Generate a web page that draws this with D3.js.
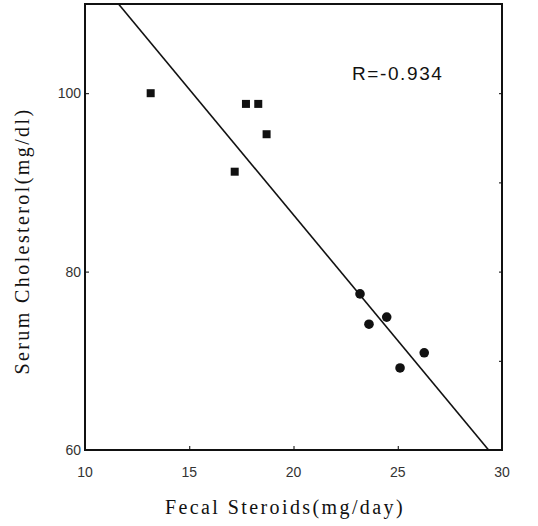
<!DOCTYPE html>
<html>
<head>
<meta charset="utf-8">
<script src="https://cdn.jsdelivr.net/npm/d3@7"></script>
<style>
	body { margin: 0; background: #fff; }
	.tick-label { font-family: "Liberation Sans", Arial, sans-serif; font-size: 14px; fill: #333; }
	.axis-title { font-family: "Liberation Serif", "DejaVu Serif", serif; font-size: 20px; letter-spacing: 2.4px; fill: #111; }
	.r-label { font-family: "Liberation Sans", Arial, sans-serif; font-size: 19px; letter-spacing: 1.6px; fill: #111; }
</style>
</head>
<body>
<svg id="chart" width="538" height="526"></svg>
<script>
// fecal steroids (mg/day) vs serum cholesterol (mg/dl)
var squareX = [13.15, 17.72, 18.31, 18.71, 17.18];
var squareY = [100.0, 98.8, 98.8, 95.4, 91.2];
var circleX = [23.19, 23.62, 24.47, 26.27, 25.11];
var circleY = [77.5, 74.1, 74.9, 70.9, 69.2];

var xTicks = [10, 15, 20, 25, 30];
var yTicks = [60, 80, 100];

// regression line: y = intercept + slope * x
var fitSlope = -2.817;
var fitIntercept = 142.7;
var rLabel = 'R=-0.934';

var margin = { left: 85, right: 36, top: 4, bottom: 76 };
var width = 538, height = 526;

var svg = d3.select('#chart');

var x = d3.scaleLinear().domain([10, 30]).range([margin.left, width - margin.right]);
var y = d3.scaleLinear().domain([60, 110]).range([height - margin.bottom, margin.top]);

// inward ticks on all four sides
svg.append('g')
	.attr('transform', 'translate(0,' + y(60) + ')')
	.call(d3.axisBottom(x).tickValues(xTicks).tickSize(-4).tickFormat(''))
	.call(function(g) { g.select('.domain').remove(); });
svg.append('g')
	.attr('transform', 'translate(' + x(10) + ',0)')
	.call(d3.axisLeft(y).tickValues(yTicks).tickSize(-4).tickFormat(''))
	.call(function(g) { g.select('.domain').remove(); });
svg.append('g')
	.attr('transform', 'translate(' + x(30) + ',0)')
	.call(d3.axisRight(y).tickValues([70, 80, 90, 100]).tickSize(-3).tickFormat(''))
	.call(function(g) { g.select('.domain').remove(); });

// tick labels
svg.selectAll('text.xlab')
	.data(xTicks)
	.enter()
	.append('text')
	.attr('class', 'tick-label xlab')
	.attr('x', function(d) { return x(d); })
	.attr('y', y(60) + 27)
	.attr('text-anchor', 'middle')
	.text(function(d) { return d; });

svg.selectAll('text.ylab')
	.data(yTicks)
	.enter()
	.append('text')
	.attr('class', 'tick-label ylab')
	.attr('x', x(10) - 4)
	.attr('y', function(d) { return y(d) + 5; })
	.attr('text-anchor', 'end')
	.text(function(d) { return d; });

// frame
svg.append('rect')
	.attr('x', x(10))
	.attr('y', y(110))
	.attr('width', x(30) - x(10))
	.attr('height', y(60) - y(110))
	.attr('fill', 'none')
	.attr('stroke', '#111')
	.attr('stroke-width', 2);

// regression line, clipped to the plot
var xStart = (110 - fitIntercept) / fitSlope;
var xEnd = (60 - fitIntercept) / fitSlope;
svg.append('line')
	.attr('x1', x(xStart))
	.attr('y1', y(110))
	.attr('x2', x(xEnd))
	.attr('y2', y(60))
	.attr('stroke', '#111')
	.attr('stroke-width', 1.6);

// squares
var sq = 8;
svg.selectAll('rect.sq')
	.data(d3.range(squareX.length))
	.enter()
	.append('rect')
	.attr('class', 'sq')
	.attr('x', function(i) { return x(squareX[i]) - sq / 2; })
	.attr('y', function(i) { return y(squareY[i]) - sq / 2; })
	.attr('width', sq)
	.attr('height', sq)
	.attr('fill', '#111');

// circles
svg.selectAll('circle.pt')
	.data(d3.range(circleX.length))
	.enter()
	.append('circle')
	.attr('class', 'pt')
	.attr('cx', function(i) { return x(circleX[i]); })
	.attr('cy', function(i) { return y(circleY[i]); })
	.attr('r', 4.8)
	.attr('fill', '#111');

// R label
svg.append('text')
	.attr('class', 'r-label')
	.attr('x', 352)
	.attr('y', 80)
	.text(rLabel);

// axis titles
svg.append('text')
	.attr('class', 'axis-title')
	.attr('x', 285)
	.attr('y', 514)
	.attr('text-anchor', 'middle')
	.text('Fecal Steroids(mg/day)');

svg.append('text')
	.attr('class', 'axis-title')
	.attr('transform', 'translate(29,' + 241 + ') rotate(-90)')
	.attr('text-anchor', 'middle')
	.text('Serum Cholesterol(mg/dl)');
</script>
</body>
</html>
